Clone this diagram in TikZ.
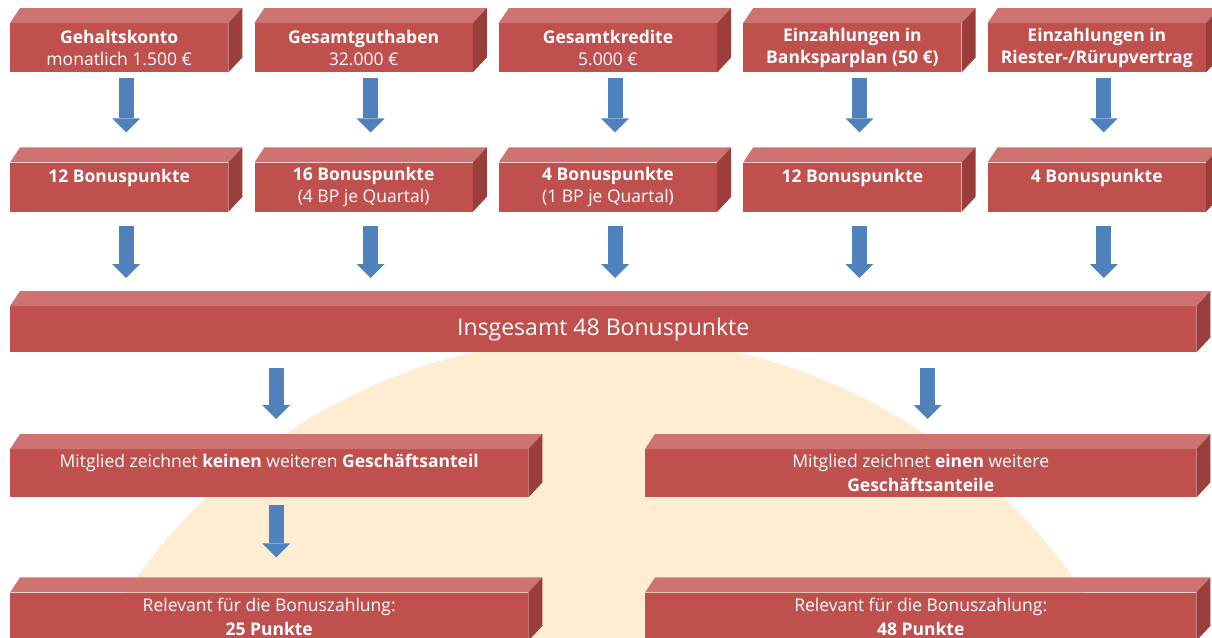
\documentclass[tikz,border=0pt]{standalone}
\usepackage{fontspec}
\setmainfont{Open Sans}
\usetikzlibrary{arrows.meta,calc,positioning}

\definecolor{brickfront}{HTML}{C0504D}
\definecolor{bricktop}{HTML}{CD7371}
\definecolor{brickside}{HTML}{9B3D3A}
\definecolor{arrowblue}{HTML}{4F81BD}
\definecolor{sunfill}{HTML}{FEEDD2}

\tikzset{
  brick/.style={fill=brickfront,text=white,align=center,inner sep=0pt,minimum width=218pt,minimum height=49pt,font=\fontsize{17.5}{22}\selectfont},
  widebrick/.style={brick,minimum width=1186pt,minimum height=46pt,font=\fontsize{23}{26}\selectfont},
  halfbrick/.style={brick,minimum height=48pt,font=\fontsize{17.5}{24}\selectfont},
  bluearrow/.style={draw=arrowblue,line width=15pt,-{Triangle[width=28pt,length=14pt,line width=0pt]}}
}

\begin{document}
\begin{tikzpicture}[x=1pt,y=1pt]
\useasboundingbox (0,0) rectangle (1212,-637);
\clip (0,0) rectangle (1212,-637);
\fill[sunfill] (605,-913) circle (576);

% first row
\node[brick,anchor=north west] (gk) at (10,-23) {\textbf{Gehaltskonto}\\monatlich 1.500 €};
\node[brick,right=26pt of gk] (gg) {\textbf{Gesamtguthaben}\\32.000 €};
\node[brick,right=26pt of gg] (gkr) {\textbf{Gesamtkredite}\\5.000 €};
\node[brick,right=26pt of gkr] (bsp) {\textbf{Einzahlungen in}\\\textbf{Banksparplan (50 €)}};
\node[brick,right=26pt of bsp] (rr) {\textbf{Einzahlungen in}\\\textbf{Riester-/Rürupvertrag}};

% bonus points
\node[brick,below=90pt of gk] (bp1) {\textbf{12 Bonuspunkte}\\~};
\node[brick,below=90pt of gg] (bp2) {\textbf{16 Bonuspunkte}\\(4 BP je Quartal)};
\node[brick,below=90pt of gkr] (bp3) {\textbf{4 Bonuspunkte}\\(1 BP je Quartal)};
\node[brick,below=90pt of bsp] (bp4) {\textbf{12 Bonuspunkte}\\~};
\node[brick,below=90pt of rr] (bp5) {\textbf{4 Bonuspunkte}\\~};

\node[widebrick,anchor=north west] (sum) at (10,-306) {Insgesamt 48 Bonuspunkte};

\node[halfbrick,minimum width=518pt,anchor=north west] (kein) at (10,-449) {Mitglied zeichnet \textbf{keinen} weiteren \textbf{Geschäftsanteil}\\~};
\node[halfbrick,minimum width=551pt,anchor=north west] (ein) at (645,-449) {Mitglied zeichnet \textbf{einen} weitere\\\textbf{Geschäftsanteile}};
\node[halfbrick,minimum width=518pt,below=95pt of kein] (relk) {Relevant für die Bonuszahlung:\\\textbf{25 Punkte}};
\node[halfbrick,minimum width=551pt,below=95pt of ein] (relein) {Relevant für die Bonuszahlung:\\\textbf{48 Punkte}};

% top and side faces
\foreach \b in {gk,gg,gkr,bsp,rr,bp1,bp2,bp3,bp4,bp5,sum,kein,ein,relk,relein} {
  \fill[bricktop] (\b.north west) -- ++(10,15) -- ($(\b.north east)+(14,15)$) -- (\b.north east) -- cycle;
  \fill[brickside] (\b.north east) -- ++(14,15) -- ($(\b.south east)+(14,15)$) -- (\b.south east) -- cycle;
}

% arrows
\foreach \a/\c in {gk/bp1,gg/bp2,gkr/bp3,bsp/bp4,rr/bp5} {
  \draw[bluearrow] ($(\a.south)+(7,-6)$) -- ($(\c.north)+(7,30)$);
  \draw[bluearrow] ($(\c.south)+(7,-14)$) -- ($(\c.south |- sum.north)+(7,28)$);
}
\draw[bluearrow] ($(sum.south -| kein.north)+(7,-16)$) -- ($(kein.north)+(7,30)$);
\draw[bluearrow] ($(sum.south -| ein.north)+(7,-16)$) -- ($(ein.north)+(7,30)$);
\draw[bluearrow] ($(kein.south)+(7,-8)$) -- ($(relk.north)+(7,35)$);
\end{tikzpicture}
\end{document}
